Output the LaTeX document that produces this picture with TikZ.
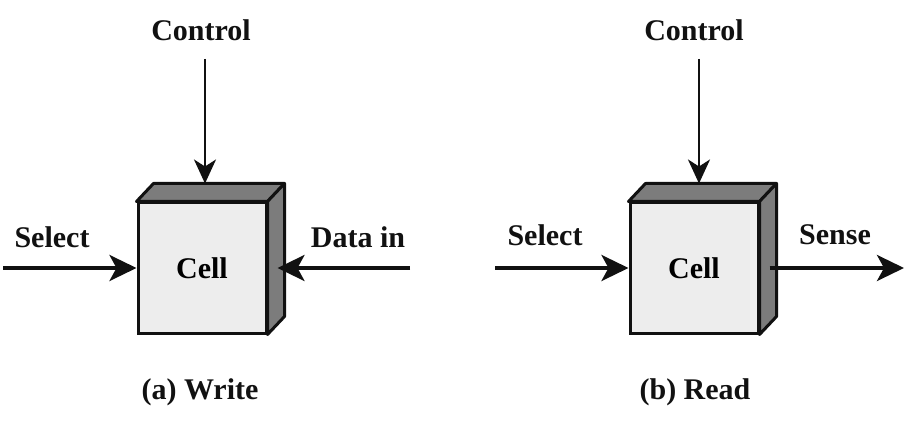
\documentclass[tikz,border=0pt]{standalone}
\usepackage{fontspec}
\setmainfont{Liberation Serif}
\usepackage{tikz}
\usetikzlibrary{arrows.meta,positioning,calc}
\definecolor{cellInk}{HTML}{111111}
\definecolor{cellFace}{HTML}{EDEDED}
\definecolor{cellShade}{HTML}{7C7C7C}
\tikzset{
  cellbox/.style  ={draw=cellInk,line width=3pt,fill=cellFace,
                    minimum width=128pt,minimum height=130pt,inner sep=0pt,
                    font=\fontsize{30}{34}\selectfont\bfseries},
  shade/.style    ={draw=cellInk,line width=3pt,fill=cellShade,line join=round},
  sig/.style      ={-{Stealth[length=27pt,width=26pt,inset=7pt]},cellInk,line width=3.6pt},
  ctl/.style      ={-{Stealth[length=24pt,width=22pt,inset=7pt]},cellInk,line width=2.6pt},
  lbl/.style      ={font=\fontsize{30}{34}\selectfont\bfseries,text=cellInk,inner sep=0pt},
}
\begin{document}
\begin{tikzpicture}[x=1pt,y=-1pt]
\useasboundingbox (0,0) rectangle (906,425);

% the two cells, front faces
\node[cellbox] (cellA) at (202,268) {Cell};
\node[cellbox] (cellB) at (694,268) {Cell};

% top and side faces of each cell
\foreach \c in {cellA,cellB}{
  \draw[shade] (\c.north west) -- ++(17,-18) -- ($(\c.north east)+(17,-18)$)
               -- (\c.north east) -- cycle;
  \draw[shade] (\c.north east) -- ++(17,-18) -- ($(\c.south east)+(17,-18)$)
               -- (\c.south east) -- cycle;
}

% (a) write
\node[lbl] (ctlA)  at (201,30)  {Control};
\node[lbl] (selA)  at (52,237)  {Select};
\node[lbl] (dinA)  at (358,237) {Data in};
\node[lbl] (capA)  at (200,392) {(a) Write};
\coordinate (ctlA0) at (205,59);
\coordinate (topA)  at ($(cellA.north)+(3,-18)$);
\coordinate (selA0) at (3,268);
\coordinate (dinA0) at (410,268);
\coordinate (sideA) at ($(cellA.east)+(10,0)$);
\draw[ctl] (ctlA0) -- (topA);
\draw[sig] (selA0) -- (cellA.west);
\draw[sig] (dinA0) -- (sideA);

% (b) read
\node[lbl] (ctlB)  at (694,30)  {Control};
\node[lbl] (selB)  at (545,235) {Select};
\node[lbl] (senB)  at (835,235) {Sense};
\node[lbl] (capB)  at (695,392) {(b) Read};
\coordinate (ctlB0) at (699,59);
\coordinate (topB)  at ($(cellB.north)+(5,-18)$);
\coordinate (selB0) at (495,268);
\coordinate (sideB) at ($(cellB.east)+(10,0)$);
\coordinate (senB0) at (904,268);
\draw[ctl] (ctlB0) -- (topB);
\draw[sig] (selB0) -- (cellB.west);
\draw[sig] (sideB) -- (senB0);
\end{tikzpicture}
\end{document}
